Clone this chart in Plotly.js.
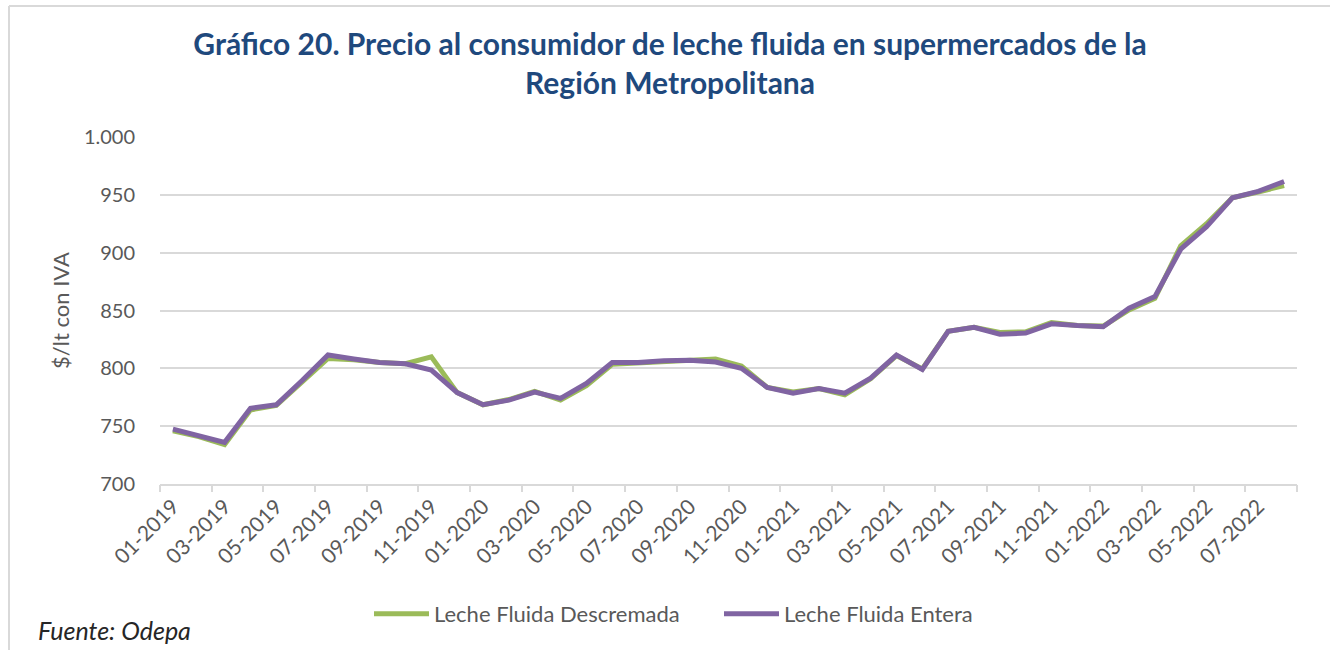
<!DOCTYPE html>
<html>
<head>
<meta charset="utf-8">
<script src="https://cdn.plot.ly/plotly-3.0.1.min.js"></script>
<style>
  html, body { margin: 0; padding: 0; background: #ffffff; }
  #chart { width: 1330px; height: 650px; }
</style>
</head>
<body>
<div id="chart"></div>
<script>
const months = [
  "01-2019","02-2019","03-2019","04-2019","05-2019","06-2019","07-2019","08-2019","09-2019","10-2019","11-2019","12-2019",
  "01-2020","02-2020","03-2020","04-2020","05-2020","06-2020","07-2020","08-2020","09-2020","10-2020","11-2020","12-2020",
  "01-2021","02-2021","03-2021","04-2021","05-2021","06-2021","07-2021","08-2021","09-2021","10-2021","11-2021","12-2021",
  "01-2022","02-2022","03-2022","04-2022","05-2022","06-2022","07-2022","08-2022"
];
const descremada = [
  746, 741, 734, 764, 768, 788, 808.5, 807.5, 805, 804, 810, 779,
  768.5, 773, 780, 772.5, 785, 803.5, 804.5, 805.5, 807.5, 808, 802, 783.5,
  779.5, 782.5, 777, 791, 811, 799.5, 832, 835.5, 831, 831.5, 839.5, 837,
  836.5, 850.5, 860.5, 906, 925, 947.5, 952.5, 958
];
const entera = [
  747.5, 742, 736, 765.5, 768.5, 789.5, 811.5, 808, 805, 804, 798.5, 779,
  768.5, 772.5, 779.5, 774, 787, 805, 805, 806.5, 807, 805.5, 800, 783.5,
  778.5, 782.5, 778.5, 791.5, 811.5, 799, 832, 835.5, 829.5, 830.5, 838.5, 837,
  836, 852, 862, 903, 922.5, 947.5, 953, 961.5
];
const seriesNames = ["Leche Fluida Descremada", "Leche Fluida Entera"];
const labelMonths = months.filter((m, i) => i % 2 === 0);
const boundaryTicks = [];
for (let b = -0.5; b <= months.length - 0.5; b += 2) boundaryTicks.push(b);

const FONT = "Lato, 'Open Sans', sans-serif";
const GREY = "#595959";
const GRID = "#d9d9d9";

const traces = [
  {
    x: months, y: descremada, name: seriesNames[0], type: "scatter", mode: "lines",
    line: { color: "#9BBB59", width: 5 }, hoverinfo: "x+y"
  },
  {
    x: months, y: entera, name: seriesNames[1], type: "scatter", mode: "lines",
    line: { color: "#8064A2", width: 5 }, hoverinfo: "x+y"
  },
  {
    x: [-0.5, months.length - 0.5], y: [700, 700], xaxis: "x2", type: "scatter", mode: "lines",
    line: { color: "rgba(0,0,0,0)", width: 0 }, showlegend: false, hoverinfo: "skip"
  }
];

const layout = {
  width: 1330, height: 650,
  paper_bgcolor: "#ffffff", plot_bgcolor: "#ffffff",
  separators: ",.",
  margin: { l: 160, r: 33, t: 137, b: 166 },
  font: { family: FONT, color: GREY, size: 19 },
  title: {
    text: "<b>Gráfico 20. Precio al consumidor de leche fluida en supermercados de la<br>Región Metropolitana</b>",
    font: { family: FONT, size: 30, color: "#1F497D" },
    x: 670 / 1330, xanchor: "center", xref: "container",
    y: 1 - 55 / 650, yanchor: "top", yref: "container"
  },
  xaxis: {
    type: "category",
    range: [-0.5, months.length - 0.5],
    tickmode: "array", tickvals: labelMonths, ticktext: labelMonths,
    tickangle: -45, ticks: "", showgrid: false,
    showline: true, linecolor: GRID, linewidth: 2,
    tickfont: { family: FONT, size: 21, color: GREY },
    fixedrange: true
  },
  xaxis2: {
    overlaying: "x", range: [-0.5, months.length - 0.5],
    tickmode: "array", tickvals: boundaryTicks, ticktext: boundaryTicks.map(() => ""),
    ticks: "outside", ticklen: 7, tickcolor: GRID, tickwidth: 2,
    showgrid: false, showline: false, zeroline: false, showticklabels: true,
    side: "bottom", fixedrange: true
  },
  yaxis: {
    range: [700, 1000], dtick: 50, tick0: 700,
    separatethousands: true, tickformat: ",d",
    showgrid: true, gridcolor: GRID, gridwidth: 2,
    zeroline: false, showline: false,
    ticks: "outside", ticklen: 20, tickcolor: "rgba(0,0,0,0)",
    tickfont: { family: FONT, size: 20, color: GREY },
    title: { text: "$/lt con IVA", font: { family: FONT, size: 22, color: GREY }, standoff: 8 },
    fixedrange: true
  },
  showlegend: true,
  legend: {
    orientation: "h", x: (375 - 6 - 160) / 1137, xanchor: "left",
    y: (484 - 614) / 347, yanchor: "middle",
    font: { family: FONT, size: 22, color: GREY },
    itemwidth: 55, entrywidth: 280, entrywidthmode: "pixels",
    traceorder: "normal", bgcolor: "rgba(0,0,0,0)"
  },
  annotations: [
    {
      text: "<i>Fuente: Odepa</i>", xref: "paper", yref: "paper",
      x: (36 - 160) / 1137, xanchor: "left",
      y: (484 - 630) / 347, yanchor: "middle",
      showarrow: false, font: { family: FONT, size: 25, color: "#262626" }
    }
  ],
  shapes: [
    { type: "line", xref: "paper", yref: "paper",
      x0: (9 - 160) / 1137, x1: (9 - 160) / 1137, y0: (484 - 6) / 347, y1: (484 - 660) / 347,
      line: { color: GRID, width: 2 } },
    { type: "line", xref: "paper", yref: "paper",
      x0: (9 - 160) / 1137, x1: (1340 - 160) / 1137, y0: (484 - 6) / 347, y1: (484 - 6) / 347,
      line: { color: GRID, width: 2 } }
  ],
  hovermode: "closest"
};

Plotly.newPlot("chart", traces, layout, { displayModeBar: false, staticPlot: false });
</script>
</body>
</html>
